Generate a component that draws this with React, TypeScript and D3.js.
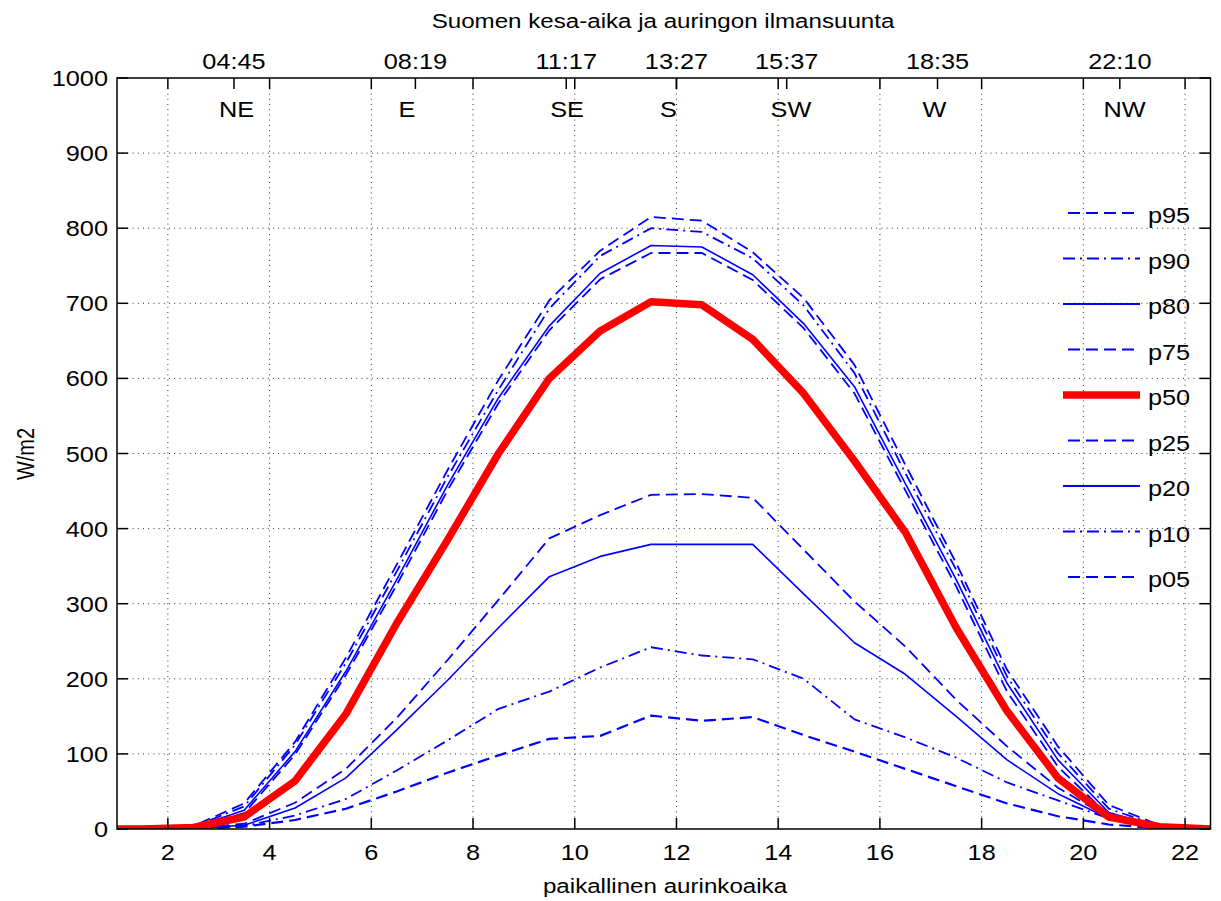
import React from "react";
import * as d3 from "d3";

// ---- data ----
const HOURS = [0.5, 1.5, 2.5, 3.5, 4.5, 5.5, 6.5, 7.5, 8.5, 9.5, 10.5, 11.5, 12.5, 13.5, 14.5, 15.5, 16.5, 17.5, 18.5, 19.5, 20.5, 21.5, 22.5, 23.5];
const P95 = [0, 0, 4, 34, 116, 228, 352, 478, 598, 704, 770, 815, 810, 768, 707, 618, 485, 354, 212, 110, 32, 5, 0, 0];
const P90 = [0, 0, 3, 30, 112, 221, 343, 469, 585, 693, 763, 800, 795, 760, 697, 607, 474, 345, 203, 101, 27, 4, 0, 0];
const P80 = [0, 0, 2, 25, 103, 210, 332, 458, 574, 670, 740, 777, 775, 738, 673, 589, 460, 332, 194, 92, 22, 3, 0, 0];
const P75 = [0, 0, 2, 21, 99, 205, 325, 451, 567, 664, 732, 767, 767, 731, 667, 580, 451, 323, 183, 83, 18, 3, 0, 0];
const P50 = [0, 0, 2, 16, 64, 153, 274, 385, 500, 600, 663, 702, 698, 652, 580, 490, 395, 268, 157, 68, 16, 3, 0, 0];
const P25 = [0, 0, 1, 7, 35, 80, 148, 225, 305, 387, 418, 445, 446, 441, 372, 303, 243, 172, 110, 55, 15, 2, 0, 0];
const P20 = [0, 0, 1, 5, 28, 68, 132, 198, 268, 336, 363, 379, 379, 379, 313, 248, 206, 150, 92, 47, 14, 2, 0, 0];
const P10 = [0, 0, 1, 4, 18, 40, 78, 118, 160, 183, 215, 242, 231, 226, 200, 146, 122, 95, 62, 38, 14, 2, 0, 0];
const P05 = [0, 0, 0, 3, 12, 27, 50, 75, 98, 120, 124, 151, 144, 149, 125, 103, 80, 57, 34, 17, 6, 1, 0, 0];

const SERIES_NAMES = ["p95", "p90", "p80", "p75", "p50", "p25", "p20", "p10", "p05"];
const SERIES_VALUES = [P95, P90, P80, P75, P50, P25, P20, P10, P05];

const X_TICKS = [2, 4, 6, 8, 10, 12, 14, 16, 18, 20, 22];
const Y_TICKS = [0, 100, 200, 300, 400, 500, 600, 700, 800, 900, 1000];
const TOP_TICK_HOURS = [3.3, 6.867, 9.833, 12.0, 14.167, 17.133, 20.717];
const TOP_TICK_LABELS = ["04:45", "08:19", "11:17", "13:27", "15:37", "18:35", "22:10"];
const DIR_LABELS = ["NE", "E", "SE", "S", "SW", "W", "NW"];
const DIR_HOURS = [3.35, 6.7, 9.85, 11.84, 14.25, 17.07, 20.81];

const TITLE = "Suomen kesa-aika ja auringon ilmansuunta";
const X_LABEL = "paikallinen aurinkoaika";
const Y_LABEL = "W/m2";

// ---- styles ----
const STYLES: Record<string, { color: string; width: number; dash: string | null }> = {
  p95: { color: "#0000ff", width: 1.8, dash: "12,6" },
  p90: { color: "#0000ff", width: 1.8, dash: "12,5,2,5" },
  p80: { color: "#0000ff", width: 1.6, dash: null },
  p75: { color: "#0000ff", width: 1.8, dash: "12,6" },
  p50: { color: "#ff0000", width: 7.5, dash: null },
  p25: { color: "#0000ff", width: 1.8, dash: "12,6" },
  p20: { color: "#0000ff", width: 1.6, dash: null },
  p10: { color: "#0000ff", width: 1.8, dash: "12,5,2,5" },
  p05: { color: "#0000ff", width: 2.2, dash: "12,6" },
};

const W = 1221;
const H = 901;
const L = 117;
const R = 1210.5;
const TOP = 78;
const BOT = 829;
const SX = 1.15;
const FONT = "'Liberation Sans', Arial, Helvetica, sans-serif";
const TICK = 11;

function Txt(props: { x: number; y: number; size: number; anchor?: string; children: any; rot?: boolean }) {
  const { x, y, size, anchor = "middle", children, rot } = props;
  const tf = rot
    ? `translate(${x},${y}) rotate(-90) scale(1,${SX})`
    : `translate(${x},${y}) scale(${SX},1)`;
  return (
    <text transform={tf} textAnchor={anchor} fontFamily={FONT} fontSize={size} fill="#000">
      {children}
    </text>
  );
}

export default function App() {
  const x = d3.scaleLinear().domain([1, 22.5]).range([L, R]);
  const y = d3.scaleLinear().domain([0, 1000]).range([BOT, TOP]);
  const line = d3
    .line<number>()
    .x((_, i) => x(HOURS[i]))
    .y((d) => y(d));

  const drawOrder = ["p95", "p90", "p80", "p75", "p25", "p20", "p10", "p05", "p50"];

  return (
    <svg
      width={W}
      height={H}
      style={{ position: "absolute", left: 0, top: 0, background: "#fff" }}
    >
      <rect x={0} y={0} width={W} height={H} fill="#fff" />
      <defs>
        <clipPath id="plotclip">
          <rect x={L} y={TOP - 10} width={R - L} height={BOT - TOP + 10} />
        </clipPath>
      </defs>

      {/* grid */}
      <g stroke="#333" strokeWidth={1} strokeDasharray="1,4.2">
        {X_TICKS.map((t) => (
          <line key={"gx" + t} x1={x(t)} x2={x(t)} y1={TOP} y2={BOT} />
        ))}
        {Y_TICKS.filter((t) => t > 0 && t < 1000).map((t) => (
          <line key={"gy" + t} x1={L} x2={R} y1={y(t)} y2={y(t)} />
        ))}
      </g>

      {/* series */}
      <g clipPath="url(#plotclip)" fill="none">
        {drawOrder.map((name) => {
          const idx = SERIES_NAMES.indexOf(name);
          const s = STYLES[name];
          return (
            <path
              key={name}
              d={line(SERIES_VALUES[idx]) || ""}
              stroke={s.color}
              strokeWidth={s.width}
              strokeDasharray={s.dash || undefined}
              strokeLinejoin="round"
            />
          );
        })}
      </g>

      {/* axes box and ticks */}
      <g stroke="#000" strokeWidth={1.5} fill="none">
        <rect x={L} y={TOP} width={R - L} height={BOT - TOP} />
        {X_TICKS.map((t) => (
          <g key={"tx" + t}>
            <line x1={x(t)} x2={x(t)} y1={BOT} y2={BOT - TICK} />
            <line x1={x(t)} x2={x(t)} y1={TOP} y2={TOP + TICK} />
          </g>
        ))}
        {Y_TICKS.map((t) => (
          <g key={"ty" + t}>
            <line x1={L} x2={L + TICK} y1={y(t)} y2={y(t)} />
            <line x1={R} x2={R - TICK} y1={y(t)} y2={y(t)} />
          </g>
        ))}
        {TOP_TICK_HOURS.map((h, i) => (
          <line key={"tt" + i} x1={x(h)} x2={x(h)} y1={TOP} y2={TOP + TICK} />
        ))}
      </g>

      {/* tick labels */}
      {X_TICKS.map((t) => (
        <Txt key={"lx" + t} x={x(t)} y={BOT + 31} size={22}>
          {t}
        </Txt>
      ))}
      {Y_TICKS.map((t) => (
        <Txt key={"ly" + t} x={L - 9} y={y(t) + 8} size={22} anchor="end">
          {t}
        </Txt>
      ))}
      {TOP_TICK_HOURS.map((h, i) => (
        <Txt key={"lt" + i} x={x(h)} y={TOP - 9} size={22}>
          {TOP_TICK_LABELS[i]}
        </Txt>
      ))}
      {DIR_HOURS.map((h, i) => (
        <Txt key={"ld" + i} x={x(h)} y={TOP + 39} size={22}>
          {DIR_LABELS[i]}
        </Txt>
      ))}

      {/* titles */}
      <Txt x={663} y={28} size={21}>
        {TITLE}
      </Txt>
      <Txt x={665} y={893} size={21}>
        {X_LABEL}
      </Txt>
      <Txt x={34} y={454} size={20} rot>
        {Y_LABEL}
      </Txt>

      {/* legend */}
      {SERIES_NAMES.map((name, i) => {
        const s = STYLES[name];
        const ly = 213 + i * 45.5;
        return (
          <g key={"leg" + name}>
            <line
              x1={1063}
              x2={1140}
              y1={ly}
              y2={ly}
              stroke={s.color}
              strokeWidth={name === "p50" ? 7.5 : 1.8}
              strokeDasharray={s.dash || undefined}
              strokeDashoffset={s.dash === "12,6" ? -5 : 0}
            />
            <Txt x={1148} y={ly + 10} size={22} anchor="start">
              {name}
            </Txt>
          </g>
        );
      })}
    </svg>
  );
}
